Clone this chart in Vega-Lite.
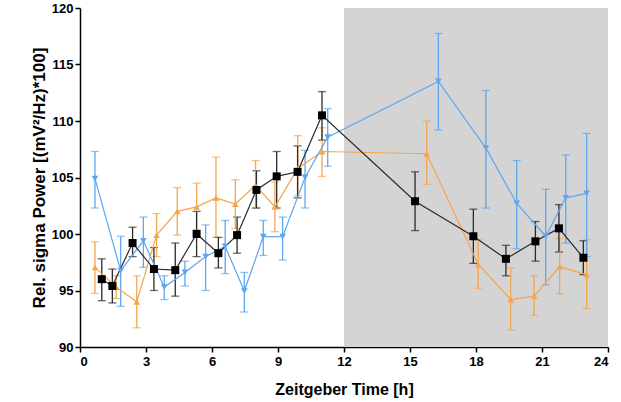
{
  "$schema": "https://vega.github.io/schema/vega-lite/v6.json",
  "width": 528,
  "height": 339,
  "autosize": {"type": "none"},
  "padding": {"left": 80, "top": 8, "right": 13, "bottom": 55},
  "background": "white",
  "config": {
    "view": {"stroke": null},
    "axis": {
      "domainColor": "#000",
      "domainWidth": 1.5,
      "tickColor": "#000",
      "tickWidth": 1.5,
      "tickSize": 5,
      "grid": false,
      "labelFont": "Liberation Sans",
      "labelFontWeight": "bold",
      "labelFontSize": 13,
      "labelColor": "#000",
      "titleFont": "Liberation Sans",
      "titleFontWeight": "bold",
      "titleFontSize": 16,
      "titleColor": "#000"
    }
  },
  "datasets": {
    "pts": [
      {"g": "O", "t": 0.68, "v": 97.05, "lo": 94.75, "hi": 99.3},
      {"g": "O", "t": 1.64, "v": 95.3, "lo": 94.3, "hi": 96.3},
      {"g": "O", "t": 2.58, "v": 94.0, "lo": 91.7, "hi": 96.3},
      {"g": "O", "t": 3.48, "v": 99.9, "lo": 98.0, "hi": 101.8},
      {"g": "O", "t": 4.42, "v": 102.0, "lo": 99.9, "hi": 104.1},
      {"g": "O", "t": 5.3, "v": 102.4, "lo": 100.4, "hi": 104.5},
      {"g": "O", "t": 6.18, "v": 103.2, "lo": 99.7, "hi": 106.8},
      {"g": "O", "t": 7.06, "v": 102.65, "lo": 100.5, "hi": 104.8},
      {"g": "O", "t": 7.98, "v": 104.3, "lo": 102.3, "hi": 106.5},
      {"g": "O", "t": 8.86, "v": 102.4, "lo": 100.2, "hi": 104.6},
      {"g": "O", "t": 9.9, "v": 105.8, "lo": 103.4, "hi": 108.7},
      {"g": "O", "t": 11.0, "v": 107.3, "lo": 105.1, "hi": 109.4},
      {"g": "O", "t": 15.76, "v": 107.1, "lo": 104.4, "hi": 110.0},
      {"g": "O", "t": 18.1, "v": 97.3, "lo": 95.2, "hi": 99.5},
      {"g": "O", "t": 19.58, "v": 94.2, "lo": 91.5, "hi": 97.0},
      {"g": "O", "t": 20.64, "v": 94.5, "lo": 92.8, "hi": 96.3},
      {"g": "O", "t": 21.8, "v": 97.1, "lo": 94.7, "hi": 99.6},
      {"g": "O", "t": 23.03, "v": 96.4, "lo": 93.4, "hi": 99.5},
      {"g": "L", "t": 0.68, "v": 104.9, "lo": 102.3, "hi": 107.3},
      {"g": "L", "t": 1.85, "v": 96.75, "lo": 93.6, "hi": 99.8},
      {"g": "L", "t": 2.88, "v": 99.4, "lo": 97.05, "hi": 101.5},
      {"g": "L", "t": 3.83, "v": 95.3, "lo": 94.2, "hi": 96.3},
      {"g": "L", "t": 4.77, "v": 96.6, "lo": 95.4, "hi": 97.6},
      {"g": "L", "t": 5.71, "v": 98.0, "lo": 95.0, "hi": 100.8},
      {"g": "L", "t": 6.6, "v": 98.9, "lo": 96.5, "hi": 101.2},
      {"g": "L", "t": 7.47, "v": 94.95, "lo": 93.1, "hi": 96.6},
      {"g": "L", "t": 8.33, "v": 99.76, "lo": 98.1, "hi": 101.2},
      {"g": "L", "t": 9.21, "v": 99.76, "lo": 97.7, "hi": 101.5},
      {"g": "L", "t": 10.23, "v": 105.0, "lo": 102.3, "hi": 107.4},
      {"g": "L", "t": 11.26, "v": 108.56, "lo": 106.0, "hi": 111.1},
      {"g": "L", "t": 16.29, "v": 113.5, "lo": 109.2, "hi": 117.75},
      {"g": "L", "t": 18.45, "v": 107.6, "lo": 102.3, "hi": 112.7},
      {"g": "L", "t": 19.85, "v": 102.7, "lo": 98.7, "hi": 106.5},
      {"g": "L", "t": 21.17, "v": 99.8, "lo": 95.5, "hi": 103.95},
      {"g": "L", "t": 22.08, "v": 103.2, "lo": 99.2, "hi": 107.0},
      {"g": "L", "t": 23.03, "v": 103.6, "lo": 98.0, "hi": 108.9},
      {"g": "B", "t": 0.99, "v": 96.0, "lo": 94.1, "hi": 97.8},
      {"g": "B", "t": 1.47, "v": 95.4, "lo": 93.9, "hi": 96.9},
      {"g": "B", "t": 2.39, "v": 99.2, "lo": 98.0, "hi": 100.6},
      {"g": "B", "t": 3.36, "v": 96.9, "lo": 95.0, "hi": 98.8},
      {"g": "B", "t": 4.33, "v": 96.8, "lo": 94.5, "hi": 99.2},
      {"g": "B", "t": 5.3, "v": 100.0, "lo": 98.0, "hi": 102.0},
      {"g": "B", "t": 6.29, "v": 98.3, "lo": 97.0, "hi": 99.7},
      {"g": "B", "t": 7.14, "v": 99.9, "lo": 98.3, "hi": 101.5},
      {"g": "B", "t": 8.02, "v": 103.9, "lo": 102.3, "hi": 105.6},
      {"g": "B", "t": 8.94, "v": 105.1, "lo": 102.3, "hi": 107.3},
      {"g": "B", "t": 9.89, "v": 105.5, "lo": 103.2, "hi": 107.8},
      {"g": "B", "t": 11.0, "v": 110.5, "lo": 108.3, "hi": 112.6},
      {"g": "B", "t": 15.23, "v": 102.9, "lo": 100.3, "hi": 105.5},
      {"g": "B", "t": 17.88, "v": 99.8, "lo": 97.4, "hi": 102.2},
      {"g": "B", "t": 19.36, "v": 97.8, "lo": 96.3, "hi": 99.0},
      {"g": "B", "t": 20.7, "v": 99.35, "lo": 97.6, "hi": 101.1},
      {"g": "B", "t": 21.77, "v": 100.5, "lo": 98.4, "hi": 102.6},
      {"g": "B", "t": 22.88, "v": 97.9, "lo": 96.4, "hi": 99.4}
    ],
    "night": [{"start": 12, "end": 24}]
  },
  "layer": [
    {
      "data": {"name": "night"},
      "mark": {"type": "rect", "color": "#d4d4d4"},
      "encoding": {
        "x": {"field": "start", "type": "quantitative", "scale": {"domain": [0, 24], "nice": false}, "title": "Zeitgeber Time [h]"},
        "x2": {"field": "end"}
      }
    },
    {
      "data": {"name": "pts"},
      "layer": [
        {
          "mark": {"type": "errorbar", "ticks": {"size": 8}, "thickness": 1.3},
          "encoding": {
            "x": {"field": "t", "type": "quantitative", "title": "Zeitgeber Time [h]"},
            "y": {"field": "lo", "type": "quantitative", "title": "Rel. sigma Power [(mV²/Hz)*100]"},
            "y2": {"field": "hi"},
            "color": {"field": "g", "type": "nominal", "legend": null,
              "scale": {"domain": ["O", "L", "B"], "range": ["#f5a54c", "#5ea6f0", "#2a2a2a"]}}
          }
        },
        {
          "mark": {"type": "line", "strokeWidth": 1.2},
          "encoding": {
            "x": {"field": "t", "type": "quantitative", "title": "Zeitgeber Time [h]"},
            "y": {"field": "v", "type": "quantitative", "title": "Rel. sigma Power [(mV²/Hz)*100]"},
            "color": {"field": "g", "type": "nominal", "legend": null,
              "scale": {"domain": ["O", "L", "B"], "range": ["#f5a54c", "#5ea6f0", "#1a1a1a"]}},
            "order": {"field": "t"}
          }
        },
        {
          "transform": [{"filter": "datum.g !== 'B'"}],
          "mark": {"type": "point", "filled": true, "opacity": 1, "size": 45},
          "encoding": {
            "x": {"field": "t", "type": "quantitative", "title": "Zeitgeber Time [h]"},
            "y": {"field": "v", "type": "quantitative", "title": "Rel. sigma Power [(mV²/Hz)*100]"},
            "color": {"field": "g", "type": "nominal", "legend": null,
              "scale": {"domain": ["O", "L", "B"], "range": ["#f5a54c", "#5ea6f0", "#000000"]}},
            "shape": {"field": "g", "type": "nominal", "legend": null,
              "scale": {"domain": ["O", "L"], "range": ["triangle-up", "triangle-down"]}}
          }
        },
        {
          "transform": [{"filter": "datum.g === 'B'"}],
          "mark": {"type": "square", "filled": true, "opacity": 1, "size": 64, "color": "#000"},
          "encoding": {
            "x": {"field": "t", "type": "quantitative",
              "scale": {"domain": [0, 24], "nice": false},
              "axis": {"values": [0, 3, 6, 9, 12, 15, 18, 21, 24], "titlePadding": 13, "labelPadding": 3},
              "title": "Zeitgeber Time [h]"},
            "y": {"field": "v", "type": "quantitative",
              "scale": {"domain": [90, 120], "nice": false, "zero": false},
              "axis": {"values": [90, 95, 100, 105, 110, 115, 120], "titlePadding": 3, "labelPadding": 2, "titleFontSize": 17},
              "title": "Rel. sigma Power [(mV²/Hz)*100]"}
          }
        }
      ]
    }
  ]
}
